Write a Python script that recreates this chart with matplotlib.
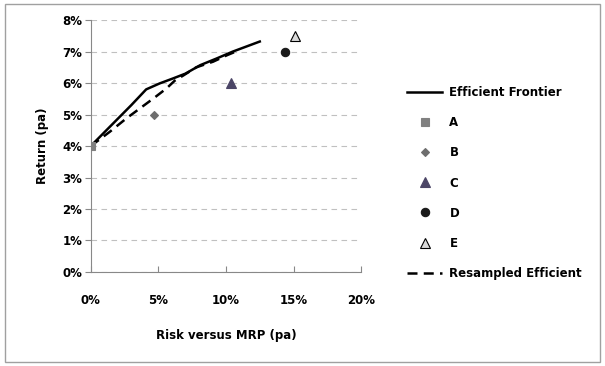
import matplotlib
matplotlib.use('Agg')
import matplotlib.pyplot as plt
from matplotlib.patches import Rectangle
from matplotlib.ticker import FuncFormatter

# efficient frontier (risk %, return %)
ef_risk = [0.0, 1.5, 3.0, 4.1, 5.1, 6.1, 7.0, 8.1, 9.3, 10.5, 12.5]
ef_ret = [4.0, 4.65, 5.3, 5.8, 5.99, 6.15, 6.3, 6.57, 6.78, 7.0, 7.32]

# resampled efficient frontier
rs_risk = [0.0, 1.4, 2.64, 4.69, 5.6, 6.22, 6.84, 7.8, 9.05, 10.1, 11.0]
rs_ret = [4.0, 4.45, 4.88, 5.53, 5.83, 6.08, 6.24, 6.5, 6.68, 6.89, 7.05]

# portfolios
pt_names = ['A', 'B', 'C', 'D', 'E']
pt_risk = [0.0, 4.7, 10.4, 14.4, 15.1]
pt_ret = [4.0, 5.0, 6.0, 7.0, 7.5]
pt_marker = ['s', 'D', '^', 'o', '^']
pt_size = [6, 4, 7, 6, 7]
pt_face = ['#808080', '#6e6e6e', '#4b4566', '#1a1a1a', '#d9d9d9']
pt_edge = ['#808080', '#6e6e6e', '#4b4566', '#1a1a1a', '#000000']

plt.rcParams['font.family'] = 'DejaVu Sans'

fig = plt.figure(figsize=(6.05, 3.66), dpi=100)
ax = fig.add_axes([0.150, 0.257, 0.447, 0.688])

handles = []
h, = ax.plot(ef_risk, ef_ret, color='black', lw=1.8, label='Efficient Frontier', zorder=3)
handles.append(h)
for n, x, y, m, s, fc, ec in zip(pt_names, pt_risk, pt_ret, pt_marker, pt_size, pt_face, pt_edge):
    h, = ax.plot([x], [y], linestyle='none', marker=m, markersize=s,
                 markerfacecolor=fc, markeredgecolor=ec, markeredgewidth=0.8,
                 label=n, zorder=4)
    handles.append(h)
h, = ax.plot(rs_risk, rs_ret, color='black', lw=1.8, linestyle=(0, (4, 2.5)),
             label='Resampled Efficient', zorder=3)
handles.append(h)

ax.set_xlim(0, 20)
ax.set_ylim(0, 8)
ax.set_xticks([0, 5, 10, 15, 20])
ax.set_yticks(range(0, 9))
ax.xaxis.set_major_formatter(FuncFormatter(lambda v, p: '%d%%' % v))
ax.yaxis.set_major_formatter(FuncFormatter(lambda v, p: '%d%%' % v))
for lab in ax.get_xticklabels() + ax.get_yticklabels():
    lab.set_fontweight('bold')
    lab.set_fontsize(8.5)
ax.tick_params(axis='x', direction='in', length=4, color='#888888', pad=16)
ax.tick_params(axis='y', direction='out', length=4, color='#888888', pad=2)

ax.grid(axis='y', linestyle=(0, (5, 4)), color='#c0c0c0', lw=0.8)
ax.set_axisbelow(True)
for s in ['top', 'right']:
    ax.spines[s].set_visible(False)
for s in ['left', 'bottom']:
    ax.spines[s].set_color('#888888')
    ax.spines[s].set_linewidth(0.8)

ax.set_xlabel('Risk versus MRP (pa)', fontweight='bold', fontsize=8.5, labelpad=16)
ax.set_ylabel('Return (pa)', fontweight='bold', fontsize=8.5, labelpad=10)

fig.legend(handles=handles, loc='center left', bbox_to_anchor=(0.655, 0.5),
           frameon=False, prop={'size': 8.5, 'weight': 'bold'},
           labelspacing=1.45, handlelength=3.0, handletextpad=0.6)

fig.patches.append(Rectangle((0.008, 0.012), 0.984, 0.978, transform=fig.transFigure,
                             fill=False, edgecolor='#a0a0a0', lw=1))

fig.savefig('out.png', dpi=100)
